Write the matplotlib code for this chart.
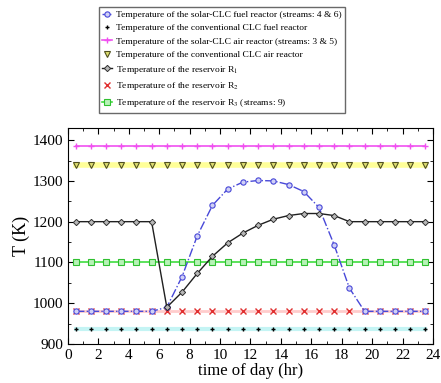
import matplotlib.pyplot as plt
from matplotlib.ticker import MultipleLocator

plt.rcParams['font.family'] = ['Liberation Serif', 'DejaVu Serif']
plt.rcParams['mathtext.fontset'] = 'stix'

hours = [h + 0.5 for h in range(24)]

solar_fuel = [980, 980, 980, 980, 980, 980, 990, 1065, 1165, 1240, 1280, 1297,
              1301, 1300, 1291, 1274, 1235, 1143, 1037, 980, 980, 980, 980, 980]
conv_fuel = [937] * 24
solar_air = [1385] * 24
conv_air = [1340] * 24
res1 = [1200, 1200, 1200, 1200, 1200, 1200, 990, 1027, 1073, 1115, 1148, 1172,
        1191, 1206, 1215, 1220, 1220, 1215, 1200, 1200, 1200, 1200, 1200, 1200]
res2 = [980] * 24
res3 = [1100] * 24

labels = [
    "Temperature of the solar-CLC fuel reactor (streams: 4 & 6)",
    "Temperature of the conventional CLC fuel reactor",
    "Temperature of the solar-CLC air reactor (streams: 3 & 5)",
    "Temperature of the conventional CLC air reactor",
    "Temperature of the reservoir R$_1$",
    "Temperature of the reservoir R$_2$",
    "Temperature of the reservoir R$_3$ (streams: 9)",
]

fig = plt.figure(figsize=(4.41, 3.83), dpi=100)
ax = fig.add_axes([0.154, 0.102, 0.828, 0.564])

# light background bands under some series
ax.plot(hours, conv_fuel, '-', color='#c4f4f4', lw=3, zorder=1)
ax.plot(hours, conv_air, '-', color='#ffff99', lw=4, zorder=1)
ax.plot(hours, res2, '-', color='#ffcccc', lw=2, zorder=1)

h_sf, = ax.plot(hours, solar_fuel, '-.', color='#4848d8', lw=1, marker='o', ms=3.8,
                mfc='#d0d0f6', mec='#4848d8', mew=0.8, zorder=4)
h_cf, = ax.plot(hours, conv_fuel, linestyle='none', color='k', marker='+', ms=3.5,
                mew=1.0, zorder=3)
h_sa, = ax.plot(hours, solar_air, '-', color='#f050f0', lw=1.2, marker='+', ms=4.5,
                mew=1.0, zorder=3)
h_ca, = ax.plot(hours, conv_air, linestyle='none', marker='v', ms=3.8,
                mfc='#dede70', mec='#505020', mew=0.8, zorder=3)
h_r1, = ax.plot(hours, res1, '-', color='#202020', lw=1, marker='D', ms=3.2,
                mfc='#b8b8b8', mec='#303030', mew=0.7, zorder=5)
h_r2, = ax.plot(hours, res2, linestyle='none', color='#e03030', marker='x', ms=3.8,
                mew=1.0, zorder=3)
h_r3, = ax.plot(hours, res3, '-', color='#40dd40', lw=1.2, marker='s', ms=3.8,
                mfc='#b8f2b8', mec='#30c030', mew=0.8, zorder=3)

ax.set_xlim(0, 24)
ax.set_ylim(900, 1430)
ax.xaxis.set_major_locator(MultipleLocator(2))
ax.xaxis.set_minor_locator(MultipleLocator(1))
ax.yaxis.set_major_locator(MultipleLocator(100))
ax.yaxis.set_minor_locator(MultipleLocator(50))
ax.tick_params(which='both', direction='in', top=True, right=True, labelsize=11)
ax.tick_params(which='major', length=4)
ax.tick_params(which='minor', length=2)
ax.set_xlabel("time of day (hr)", fontsize=12, labelpad=1)
ax.set_ylabel("T (K)", fontsize=13, labelpad=2)

fig.legend([h_sf, h_cf, h_sa, h_ca, h_r1, h_r2, h_r3], labels,
           loc='upper center', bbox_to_anchor=(0.503, 0.995), fontsize=6.8,
           frameon=True, fancybox=False, edgecolor='#444444', handlelength=1.0,
           handletextpad=0.4, labelspacing=0.5, borderpad=0.4)

fig.savefig("out.png", dpi=100)
